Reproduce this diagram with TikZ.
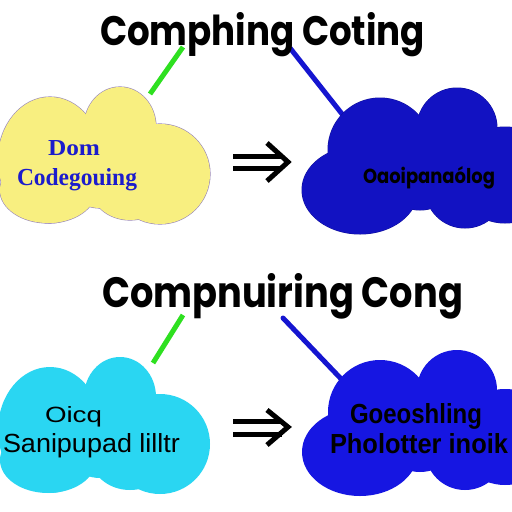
\documentclass[tikz,border=0pt]{standalone}
\usepackage{fontspec}
\usepackage{graphicx}
\newfontfamily\titlefont{Poppins}
\newfontfamily\serifb{Liberation Serif}
\newfontfamily\sansb{Liberation Sans}
\newcommand\fitbox[3]{\resizebox{#1pt}{#2pt}{#3}}
\definecolor{yellowc}{HTML}{F8EF80}
\definecolor{cyanc}{HTML}{2AD6F2}
\definecolor{navyc}{HTML}{1212C2}
\definecolor{bluec}{HTML}{1616E2}
\definecolor{textblue}{HTML}{1C1CCC}
\definecolor{greenc}{HTML}{2EE020}
\definecolor{linec}{HTML}{1515D0}
\definecolor{outlinec}{HTML}{9A88B8}
\tikzset{
  lbl/.style={anchor=base west, inner sep=0pt, outer sep=0pt},
  stem/.style={line width=5pt},
  arr/.style={line width=5pt, black},
}
\newcommand\leftcloud{50/160/52/63, 120/127/36/40, 160/174/50/50, 48/190/48/33, 100/170/38/38, 130/185/40/35}
\newcommand\rightcloud{360/190/58/44, 380/150/52/52, 457/128/40/40, 505/175/50/48, 465/188/40/40, 420/170/40/40}
\begin{document}
\begin{tikzpicture}[x=1pt,y=-1pt]
\fill[white] (0,0) rectangle (512,512);
\useasboundingbox (0,0) rectangle (512,512);
% connector end points
\coordinate (g1a) at (150,94); \coordinate (g1b) at (183,47);
\coordinate (b1a) at (346,119); \coordinate (b1b) at (290,48);
\coordinate (g2a) at (153,363); \coordinate (g2b) at (183,315);
\coordinate (b2a) at (346,384); \coordinate (b2b) at (283,318);
\draw[stem, greenc] (g1a) -- (g1b);
\draw[stem, linec] (b1a) -- (b1b);
\draw[stem, greenc] (g2a) -- (g2b);
\draw[stem, linec, line cap=round] (b2a) -- (b2b);
% yellow cloud
\foreach \x/\y/\rx/\ry in \leftcloud
  \draw[outlinec, line width=1.2pt] (\x,\y) ellipse[x radius=\rx pt, y radius=\ry pt];
\foreach \x/\y/\rx/\ry in \leftcloud
  \fill[yellowc] (\x,\y) ellipse[x radius=\rx pt, y radius=\ry pt];
% navy cloud
\foreach \x/\y/\rx/\ry in \rightcloud
  \draw[navyc!80!black, line width=1pt] (\x,\y) ellipse[x radius=\rx pt, y radius=\ry pt];
\foreach \x/\y/\rx/\ry in \rightcloud
  \fill[navyc] (\x,\y) ellipse[x radius=\rx pt, y radius=\ry pt];
% cyan cloud
\begin{scope}[shift={(0,270)}]
\foreach \x/\y/\rx/\ry in \leftcloud
  \fill[cyanc] (\x,\y) ellipse[x radius=\rx pt, y radius=\ry pt];
\end{scope}
% blue cloud
\begin{scope}[shift={(0,262)}]
\foreach \x/\y/\rx/\ry in \rightcloud
  \fill[bluec] (\x,\y) ellipse[x radius=\rx pt, y radius=\ry pt];
\end{scope}
% arrows
\coordinate (a1s) at (233,156); \coordinate (a1e) at (282,156);
\coordinate (a1s2) at (233,168); \coordinate (a1e2) at (282,168);
\coordinate (a1t) at (288,162);
\draw[arr] (a1s) -- (a1e);
\draw[arr] (a1s2) -- (a1e2);
\draw[arr, line join=miter] (267,143) -- (a1t) -- (267,181);
\coordinate (a2s) at (233,421); \coordinate (a2e) at (282,421);
\coordinate (a2s2) at (233,434); \coordinate (a2e2) at (282,434);
\coordinate (a2t) at (288,427);
\draw[arr] (a2s) -- (a2e);
\draw[arr] (a2s2) -- (a2e2);
\draw[arr, line join=miter] (267,410) -- (a2t) -- (267,445);
% texts
\node[lbl] (t1) at (100,45) {\fitbox{325}{33}{\titlefont\bfseries Comphing Coting}};
\node[lbl] (t2) at (102,307) {\fitbox{361}{34}{\titlefont\bfseries Compnuiring Cong}};
\node[lbl, text=textblue] (y1) at (48,155) {\fitbox{52}{15}{\serifb\bfseries Dom}};
\node[lbl, text=textblue] (y2) at (17,185) {\fitbox{120}{17}{\serifb\bfseries Codegouing}};
\node[lbl, text=black] (d1) at (363,183) {\fitbox{132}{17}{\titlefont\bfseries Oaoipanaólog}};
\node[lbl, text=black] (c1) at (45,422) {\fitbox{57}{16}{\sansb Oicq}};
\node[lbl, text=black] (c2) at (3,452) {\fitbox{177}{19}{\sansb Sanipupad lilltr}};
\node[lbl, text=black] (b1) at (350,423) {\fitbox{132}{20}{\sansb\bfseries Goeoshling}};
\node[lbl, text=black] (b2) at (330,453) {\fitbox{178}{20}{\sansb\bfseries Pholotter inoik}};
\end{tikzpicture}
\end{document}
